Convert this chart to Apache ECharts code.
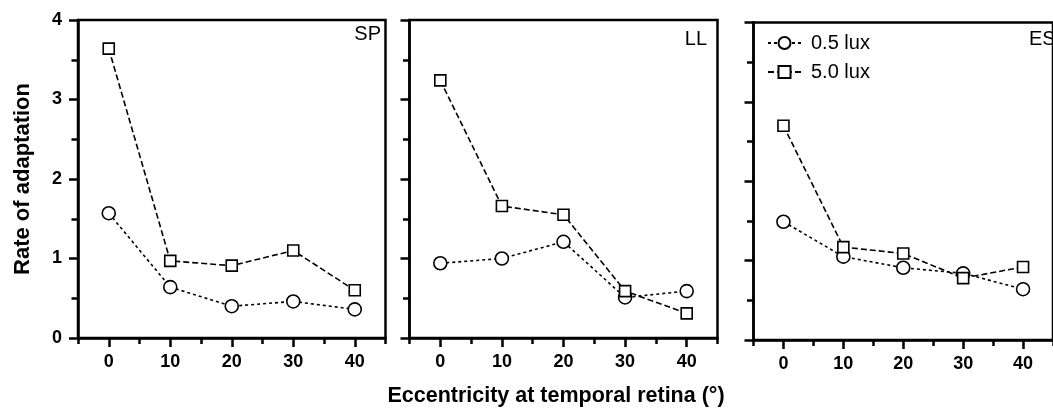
<!DOCTYPE html>
<html>
<head>
<meta charset="utf-8">
<script src="https://cdn.jsdelivr.net/npm/echarts@6/dist/echarts.min.js"></script>
<style>
html,body{margin:0;padding:0;background:#fff;}
#chart{width:1053px;height:415px;}
</style>
</head>
<body>
<div id="chart"></div>
<script>
// ---- data ----
const ecc = [0, 10, 20, 30, 40];
const xLabels = [0, 10, 20, 30, 40];
const yLabels = [0, 1, 2, 3, 4];
const panelNames = ['SP', 'LL', 'ES'];
const seriesNames = ['0.5 lux', '5.0 lux'];
const spLow  = [1.57, 0.64, 0.40, 0.46, 0.36];
const spHigh = [3.64, 0.97, 0.91, 1.10, 0.60];
const llLow  = [0.94, 1.00, 1.21, 0.51, 0.59];
const llHigh = [3.24, 1.66, 1.55, 0.59, 0.31];
const esLow  = [1.49, 1.05, 0.91, 0.84, 0.64];
const esHigh = [2.70, 1.17, 1.09, 0.78, 0.92];
const xTitle = 'Eccentricity at temporal retina (°)';
const yTitle = 'Rate of adaptation';

const FONT = '"Liberation Sans", Arial, Helvetica, sans-serif';
const lows = [spLow, llLow, esLow];
const highs = [spHigh, llHigh, esHigh];

const grids = [
  {left: 78, top: 20, width: 307.5, height: 318},
  {left: 409.5, top: 20, width: 308, height: 318},
  {left: 753.5, top: 22.5, width: 308, height: 317.5}
].map(g => Object.assign(g, {show: true, borderColor: '#000', borderWidth: 2.5, backgroundColor: 'transparent'}));

const xAxes = [], yAxes = [], series = [];
for (let i = 0; i < 3; i++) {
  xAxes.push({
    type: 'value', gridIndex: i, min: -5, max: 45, interval: 10,
    axisLine: {show: true, onZero: false, lineStyle: {color: '#000', width: 2.5}},
    axisTick: {show: true, length: 6, lineStyle: {color: '#000', width: 2.5}},
    minorTick: {show: true, splitNumber: 2, length: 9, lineStyle: {color: '#000', width: 2.5}},
    splitLine: {show: false}, minorSplitLine: {show: false},
    axisLabel: {show: true, customValues: xLabels, margin: 15, color: '#000', fontSize: 18, fontWeight: 'bold', fontFamily: FONT}
  });
  yAxes.push({
    type: 'value', gridIndex: i, min: 0, max: 4, interval: 1,
    axisLine: {show: true, onZero: false, lineStyle: {color: '#000', width: 2.5}},
    axisTick: {show: true, length: 9, lineStyle: {color: '#000', width: 2.5}},
    minorTick: {show: true, splitNumber: 2, length: 6.5, lineStyle: {color: '#000', width: 2.5}},
    splitLine: {show: false}, minorSplitLine: {show: false},
    axisLabel: {show: i === 0, margin: 16, color: '#000', fontSize: 18, fontWeight: 'bold', fontFamily: FONT,
      formatter: v => (yLabels.indexOf(v) >= 0 ? String(v) : '')},
    name: i === 0 ? yTitle : '', nameLocation: 'middle', nameGap: 44,
    nameTextStyle: {color: '#000', fontSize: 22, fontWeight: 'bold', fontFamily: FONT}
  });
  const mk = (name, vals, sym, size, dash) => ({
    name: name, type: 'line', xAxisIndex: i, yAxisIndex: i,
    data: ecc.map((x, k) => [x, vals[k]]),
    symbol: sym, symbolSize: size, showSymbol: true,
    itemStyle: {color: '#fff', borderColor: '#000', borderWidth: 1.6},
    lineStyle: {color: '#000', width: 1.6, type: dash},
    emphasis: {disabled: true}, animation: false
  });
  series.push(mk(seriesNames[0], lows[i], 'circle', 13, [3, 3]));
  series.push(mk(seriesNames[1], highs[i], 'rect', 11, [6, 3]));
}

const option = {
  animation: false,
  backgroundColor: '#fff',
  grid: grids,
  xAxis: xAxes,
  yAxis: yAxes,
  series: series,
  legend: {
    data: seriesNames, orient: 'vertical', left: 767, top: 33, padding: 0,
    itemWidth: 33, itemHeight: 15, itemGap: 9,
    textStyle: {color: '#000', fontSize: 20, fontFamily: FONT, padding: [0, 0, 0, 5]},
    selectedMode: false
  },
  graphic: [
    {type: 'text', x: 381, y: 34, style: {text: panelNames[0], font: '20px ' + FONT, fill: '#000', align: 'right', verticalAlign: 'middle'}},
    {type: 'text', x: 707, y: 39, style: {text: panelNames[1], font: '20px ' + FONT, fill: '#000', align: 'right', verticalAlign: 'middle'}},
    {type: 'text', x: 1029, y: 39, style: {text: panelNames[2], font: '20px ' + FONT, fill: '#000', align: 'left', verticalAlign: 'middle'}},
    {type: 'text', x: 556, y: 396, style: {text: xTitle, font: 'bold 21.5px ' + FONT, fill: '#000', align: 'center', verticalAlign: 'middle'}}
  ]
};
const chart = echarts.init(document.getElementById('chart'), null, {renderer: 'canvas'});
chart.setOption(option);
</script>
</body>
</html>
